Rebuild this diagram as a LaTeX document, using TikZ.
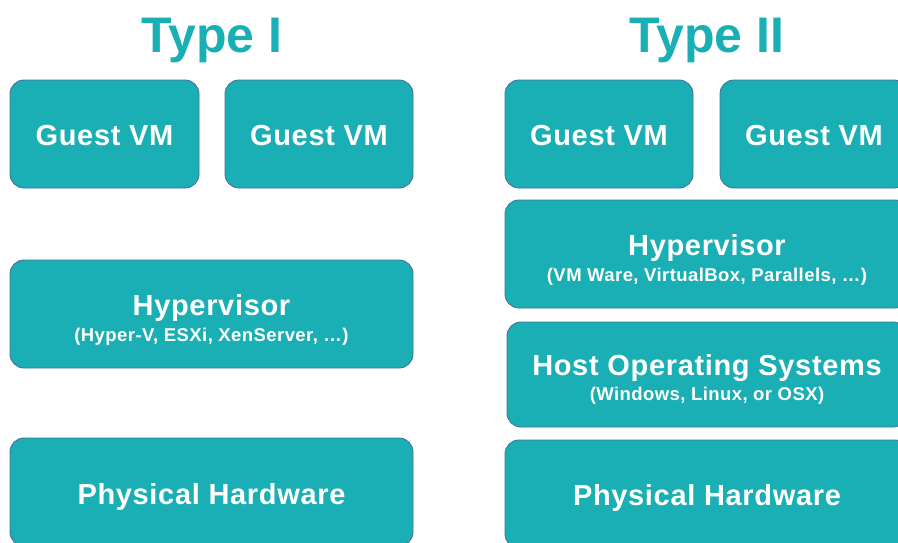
\documentclass[tikz,border=0pt]{standalone}
\usepackage{fontspec}
\setmainfont{Liberation Sans}
\newfontfamily\wideface[LetterSpace=2.3]{Liberation Sans}
\definecolor{teal1}{HTML}{19AFB4}
\definecolor{edge1}{HTML}{41719C}
\begin{document}
\begin{tikzpicture}[x=1pt,y=-1pt,
  layer/.style={draw=edge1, line width=0.9pt, fill=teal1, rounded corners=14pt, rectangle, inner sep=0pt},
  big/.style={text=white, font=\wideface\fontsize{29}{30}\selectfont\bfseries, anchor=base},
  small/.style={text=white, font=\wideface\fontsize{18.5}{20}\selectfont\bfseries, anchor=base},
  title/.style={text=teal1, font=\fontsize{50}{52}\selectfont\bfseries, anchor=base}]
\useasboundingbox (0,0) rectangle (898,542);
\clip (0,0) rectangle (898,542);
% Type I
\node[title] (t1) at (212,52) {Type I};
\draw[layer] (10,80) rectangle (199,188);
\node[big] (g1) at (104.5,145) {Guest VM};
\draw[layer] (225,80) rectangle (413,188);
\node[big] (g2) at (319,145) {Guest VM};
\draw[layer] (10,260) rectangle (413,368);
\node[big] (h1) at (211.5,315) {Hypervisor};
\node[small] (h1s) at (211.5,341) {(Hyper-V, ESXi, XenServer, …)};
\draw[layer] (10,438) rectangle (413,546);
\node[big] (p1) at (211.5,504) {Physical Hardware};
% Type II
\node[title] (t2) at (707,52) {Type II};
\draw[layer] (505,80) rectangle (693,188);
\node[big] (g3) at (599,145) {Guest VM};
\draw[layer] (720,80) rectangle (908,188);
\node[big] (g4) at (814,145) {Guest VM};
\draw[layer] (505,200) rectangle (909,308);
\node[big] (h2) at (707,255) {Hypervisor};
\node[small] (h2s) at (707,281) {(VM Ware, VirtualBox, Parallels, …)};
\draw[layer] (507,322) rectangle (907,427);
\node[big] (o2) at (707,375) {Host Operating Systems};
\node[small] (o2s) at (707,400) {(Windows, Linux, or OSX)};
\draw[layer] (505,440) rectangle (909,548);
\node[big] (p2) at (707,505) {Physical Hardware};
\end{tikzpicture}
\end{document}
